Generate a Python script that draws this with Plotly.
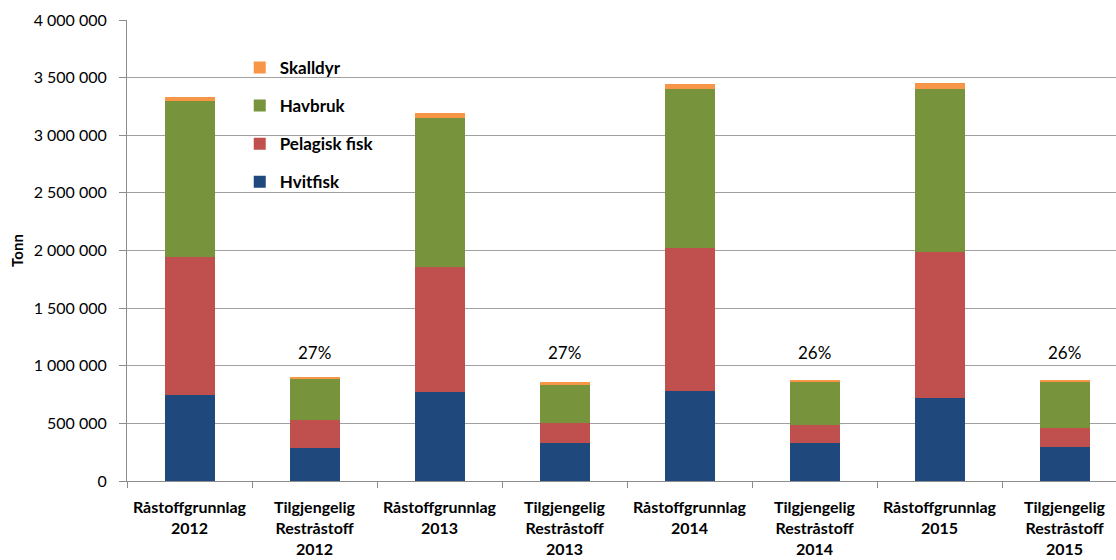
import plotly.graph_objects as go

# Categories on the x axis
categories = [
    "Råstoffgrunnlag<br>2012", "Tilgjengelig<br>Restråstoff<br>2012",
    "Råstoffgrunnlag<br>2013", "Tilgjengelig<br>Restråstoff<br>2013",
    "Råstoffgrunnlag<br>2014", "Tilgjengelig<br>Restråstoff<br>2014",
    "Råstoffgrunnlag<br>2015", "Tilgjengelig<br>Restråstoff<br>2015",
]

# Series values (tonn)
hvitfisk = [745000, 290000, 771000, 333000, 785000, 333000, 724000, 298000]
pelagisk = [1197000, 238000, 1087000, 171000, 1241000, 157000, 1265000, 160000]
havbruk = [1354000, 359000, 1290000, 337000, 1377000, 377000, 1414000, 405000]
skalldyr = [32000, 15000, 41000, 14000, 38000, 11000, 49000, 15000]

# Share labels above the "Restråstoff" bars
share_labels = ["27%", "27%", "26%", "26%"]
share_cats = [categories[1], categories[3], categories[5], categories[7]]
share_y = [1113000, 1113000, 1113000, 1113000]

series = [
    ("Hvitfisk", hvitfisk, "#1f497d", 4),
    ("Pelagisk fisk", pelagisk, "#c0504d", 3),
    ("Havbruk", havbruk, "#77933c", 2),
    ("Skalldyr", skalldyr, "#f79646", 1),
]

fig = go.Figure()
for name, vals, color, rank in series:
    fig.add_trace(go.Bar(
        x=categories,
        y=vals,
        name=name,
        legendgroup=name,
        legendrank=rank,
        marker_color=color,
        marker_line_width=0,
        width=0.4,
    ))

for cat, lbl, yv in zip(share_cats, share_labels, share_y):
    fig.add_annotation(
        x=cat, y=yv, text=lbl, showarrow=False,
        yanchor="middle",
        font=dict(family="Lato, Liberation Sans, sans-serif", size=17, color="#000000"),
    )

fig.update_layout(
    width=1116,
    height=560,
    barmode="stack",
    plot_bgcolor="white",
    paper_bgcolor="white",
    separators=", ",
    margin={"l": 127, "r": 0, "t": 20, "b": 79},
    font=dict(family="Lato, Liberation Sans, sans-serif", size=14, color="#000000"),
    legend=dict(
        x=0.114, y=0.935, xanchor="left", yanchor="top",
        traceorder="grouped",
        tracegroupgap=13,
        bgcolor="rgba(0,0,0,0)",
        font=dict(size=17, color="#000000", weight="bold"),
        itemwidth=30,
    ),
)

fig.update_xaxes(
    type="category",
    range=[-0.5, 7.412],
    automargin=False,
    showline=True,
    linecolor="#8c8c8c",
    linewidth=1,
    ticks="outside",
    tickson="boundaries",
    ticklen=6,
    tickcolor="#8c8c8c",
    ticklabelstandoff=12,
    tickfont=dict(size=16, weight="bold"),
    showgrid=False,
)

fig.update_yaxes(
    range=[0, 4000000],
    dtick=500000,
    tickformat=",d",
    automargin=False,
    showline=True,
    linecolor="#8c8c8c",
    linewidth=1,
    ticks="outside",
    ticklen=7,
    tickcolor="#8c8c8c",
    ticklabelstandoff=9,
    showgrid=True,
    gridcolor="#a0a0a0",
    gridwidth=1,
    zeroline=False,
    tickfont=dict(size=16),
    title=dict(text="Tonn", font=dict(size=15, weight="bold"), standoff=6),
)

# Drop the default page margin so the figure sits at the window's corner
fig.write_html("out.html", config={"displayModeBar": False},
               post_script="document.body.style.margin='0';")
